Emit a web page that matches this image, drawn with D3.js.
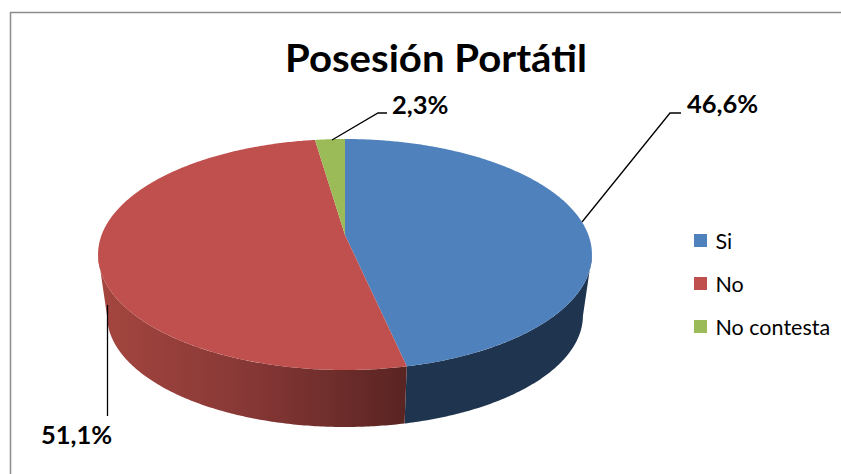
<!DOCTYPE html>
<html>
<head>
<meta charset="utf-8">
<script src="https://cdn.jsdelivr.net/npm/d3@7"></script>
<style>
  html, body { margin: 0; padding: 0; background: #fff; overflow: hidden; }
  text { font-family: Lato, "Noto Sans", sans-serif; fill: #000; }
</style>
</head>
<body>
<div id="chart"></div>
<script>
var titleText = "Posesión Portátil";
var categories = ["Si", "No", "No contesta"];
var values = [46.6, 51.1, 2.3];
var valueLabels = ["46,6%", "51,1%", "2,3%"];
var topColors = ["#4f81bd", "#c0504d", "#9bbb59"];

var W = 841, H = 474;
var svg = d3.select("#chart").append("svg").attr("width", W).attr("height", H);

// chart frame, only top and left show up in the window
svg.append("path")
  .attr("d", "M10.5," + H + "V12.5H" + W)
  .attr("fill", "none")
  .attr("stroke", "#8c8c8c")
  .attr("stroke-width", 1.5);

// perspective: circle point (u,v) to screen, k is the tilt towards the viewer
var k = 0.169;
function project(a, face) {
  var u = Math.sin(a), v = -Math.cos(a), w = 1 - k * v;
  return [face.cx + face.rx * u / w, face.cy + face.ry * v / w];
}
var topFace = { cx: 345, cy: 235, rx: 243.4, ry: 112.2 };
var bottomFace = { cx: 345, cy: 296.7, rx: 234.5, ry: 108.3 };

var pie = d3.pie().sort(null).value(function(d) { return d; });
var arcs = pie(values);
var line = d3.line();

function arcPoints(a0, a1, face) {
  var n = Math.max(2, Math.ceil((a1 - a0) / 0.01));
  return d3.range(n + 1).map(function(i) {
    return project(a0 + (a1 - a0) * i / n, face);
  });
}

var defs = svg.append("defs");
var redSide = defs.append("linearGradient")
  .attr("id", "redSide")
  .attr("gradientUnits", "userSpaceOnUse")
  .attr("x1", 100).attr("x2", 408).attr("y1", 0).attr("y2", 0);
redSide.append("stop").attr("offset", "0").attr("stop-color", "#a5463f");
redSide.append("stop").attr("offset", "0.5").attr("stop-color", "#853735");
redSide.append("stop").attr("offset", "1").attr("stop-color", "#592422");
var sideFills = ["#1f344f", "url(#redSide)", "none"];

// side wall, between the two widest points of the ellipse
var frontFrom = Math.PI * 0.555, frontTo = Math.PI * 1.445;
svg.append("g").selectAll("path")
  .data(arcs)
  .join("path")
  .attr("d", function(d) {
    var a0 = Math.max(d.startAngle, frontFrom), a1 = Math.min(d.endAngle, frontTo);
    if (a1 <= a0) return null;
    return line(arcPoints(a0, a1, topFace).concat(arcPoints(a0, a1, bottomFace).reverse())) + "Z";
  })
  .attr("fill", function(d, i) { return sideFills[i]; });

// top face
svg.append("g").selectAll("path")
  .data(arcs)
  .join("path")
  .attr("d", function(d) {
    return line([[topFace.cx, topFace.cy]].concat(arcPoints(d.startAngle, d.endAngle, topFace))) + "Z";
  })
  .attr("fill", function(d, i) { return topColors[i]; });

svg.append("text")
  .attr("x", 436)
  .attr("y", 72)
  .attr("text-anchor", "middle")
  .attr("font-size", 38)
  .attr("font-weight", 700)
  .attr("textLength", 302)
  .attr("lengthAdjust", "spacingAndGlyphs")
  .text(titleText);

// leader lines and value labels, same order as values
var leaders = [
  [[582, 222], [670, 113], [681, 113]],
  [[107.5, 305], [107.5, 416]],
  [[332, 140], [378, 113], [387, 113]]
];
var labelPos = [[687, 113], [41, 444], [392, 114]];

svg.append("g").selectAll("path")
  .data(leaders)
  .join("path")
  .attr("d", function(d) { return line(d); })
  .attr("fill", "none")
  .attr("stroke", "#000")
  .attr("stroke-width", 1.3);

svg.append("g").selectAll("text")
  .data(valueLabels)
  .join("text")
  .attr("x", function(d, i) { return labelPos[i][0]; })
  .attr("y", function(d, i) { return labelPos[i][1]; })
  .attr("font-size", 25.5)
  .attr("font-weight", 700)
  .text(function(d) { return d; });

// legend
var legendY = d3.scalePoint().domain(categories).range([240.5, 326.5]);
var legend = svg.append("g").selectAll("g")
  .data(categories)
  .join("g")
  .attr("transform", function(d) { return "translate(694," + legendY(d) + ")"; });
legend.append("rect")
  .attr("x", 0).attr("y", -6.5)
  .attr("width", 13).attr("height", 13)
  .attr("fill", function(d, i) { return topColors[i]; });
legend.append("text")
  .attr("x", 21.5)
  .attr("y", 8)
  .attr("font-size", 21.5)
  .text(function(d) { return d; });
</script>
</body>
</html>
